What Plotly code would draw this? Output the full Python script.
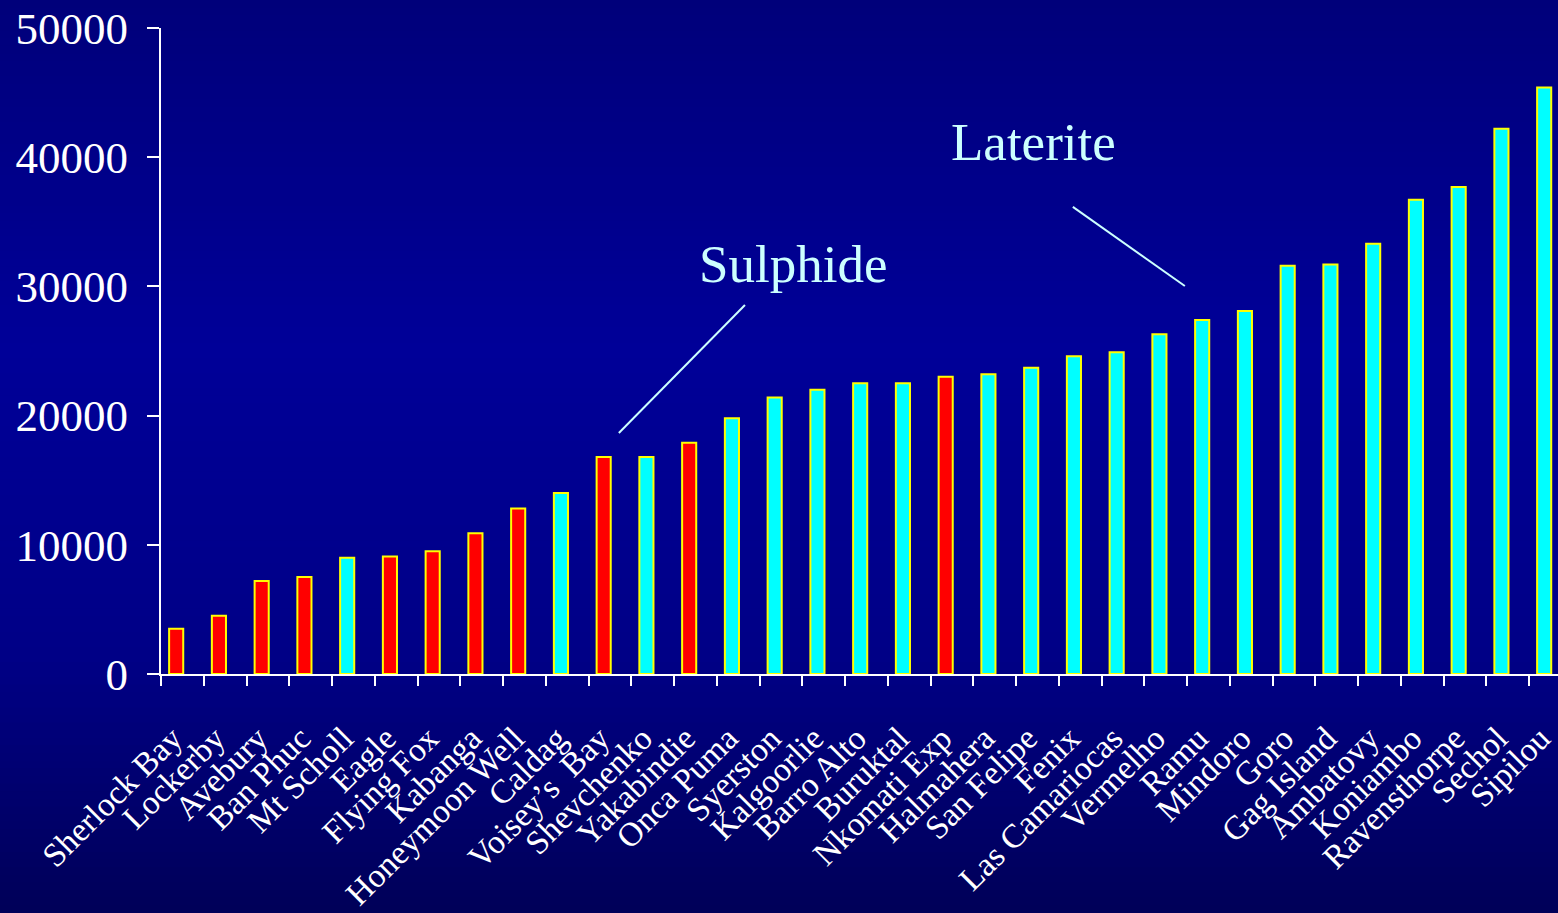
import plotly.graph_objects as go

# ---- data ----
mines = ["Sherlock Bay", "Lockerby", "Avebury", "Ban Phuc", "Mt Scholl", "Eagle",
         "Flying Fox", "Kabanga", "Honeymoon Well", "Caldag", "Voisey\u2019s  Bay",
         "Shevchenko", "Yakabindie", "Onca Puma", "Syerston", "Kalgoorlie",
         "Barro Alto", "Buruktal", "Nkomati Exp", "Halmahera", "San Felipe",
         "Fenix", "Las Camariocas", "Vermelho", "Ramu", "Mindoro", "Goro",
         "Gag Island", "Ambatovy", "Koniambo", "Ravensthorpe", "Sechol", "Sipilou"]
values = [3500, 4500, 7200, 7500, 9000, 9100, 9500, 10900, 12800, 14000, 16800,
          16800, 17900, 19800, 21400, 22000, 22500, 22500, 23000, 23200, 23700,
          24600, 24900, 26300, 27400, 28100, 31600, 31700, 33300, 36700, 37700,
          42200, 45400]
deposit_type = ["S", "S", "S", "S", "L", "S", "S", "S", "S", "L", "S", "L", "S",
                "L", "L", "L", "L", "L", "S", "L", "L", "L", "L", "L", "L", "L",
                "L", "L", "L", "L", "L", "L", "L"]
y_ticks = [0, 10000, 20000, 30000, 40000, 50000]

type_colors = {"S": "#FF0000", "L": "#00FFFF"}
bar_colors = [type_colors[t] for t in deposit_type]

W, H = 1558, 913
L_M, R_M, T_M, B_M = 161, 0, 28, 239
plot_w = W - L_M - R_M
cat_px = 42.75
x_max = -0.5 + plot_w / cat_px
label_shift = 10 / cat_px  # labels sit slightly left of category centres

fig = go.Figure()
fig.add_trace(go.Bar(
    x=mines, y=values,
    marker=dict(color=bar_colors, line=dict(color="#FFFF00", width=2)),
    width=0.33, offset=-0.31,
    hoverinfo="x+y",
))
# helper trace so the label axis exists
fig.add_trace(go.Scatter(x=[None], y=[None], xaxis="x2", yaxis="y",
                         mode="markers", hoverinfo="skip", showlegend=False))

# background gradient (bands)
stops = [(0.0, (0, 0, 0x7A)), (0.38, (0, 0, 0x98)), (0.72, (0, 0, 0x86)), (1.0, (0, 0, 0x58))]

def col_at(t):
    for (t0, c0), (t1, c1) in zip(stops[:-1], stops[1:]):
        if t0 <= t <= t1:
            f = (t - t0) / (t1 - t0) if t1 > t0 else 0
            return tuple(round(a + (b - a) * f) for a, b in zip(c0, c1))
    return stops[-1][1]

shapes = []
n_bands = 120
ph = H - T_M - B_M
for i in range(n_bands):
    py0 = H * i / n_bands
    py1 = H * (i + 1) / n_bands + 1
    t = (py0 + py1) / 2 / H
    r, g, b = col_at(min(t, 1.0))
    shapes.append(dict(
        type="rect", xref="paper", yref="paper",
        x0=-L_M / plot_w, x1=1 + 1 / plot_w,
        y0=1 - (py1 - T_M) / ph, y1=1 - (py0 - T_M) / ph,
        fillcolor=f"rgb({r},{g},{b})", line=dict(width=0), layer="below",
    ))

# annotation leader lines
line_col = "#CCFFFF"
shapes.append(dict(type="line", xref="x", yref="y", x0=13.16, y0=28560, x1=10.21, y1=18650,
                   line=dict(color=line_col, width=2)))
shapes.append(dict(type="line", xref="x", yref="y", x0=20.83, y0=36150, x1=23.45, y1=30030,
                   line=dict(color=line_col, width=2)))

fig.update_layout(
    width=W, height=H,
    margin=dict(l=L_M, r=R_M, t=T_M, b=B_M, pad=0, autoexpand=False),
    paper_bgcolor="#00005A",
    plot_bgcolor="rgba(0,0,0,0)",
    showlegend=False,
    shapes=shapes,
    font=dict(family="Liberation Serif, Times New Roman, serif", color="white"),
    annotations=[
        dict(x=14.28, y=31730, xref="x", yref="y", text="Sulphide", showarrow=False,
             font=dict(size=53, color="#CCFFFF", family="Liberation Serif"), xanchor="center", yanchor="middle"),
        dict(x=19.92, y=41200, xref="x", yref="y", text="Laterite", showarrow=False,
             font=dict(size=53, color="#CCFFFF", family="Liberation Serif"), xanchor="center", yanchor="middle"),
    ],
    xaxis=dict(
        range=[-0.5, x_max], showgrid=False, zeroline=False,
        showline=True, linecolor="white", linewidth=2,
        ticks="outside", ticklen=10, tickwidth=2, tickcolor="white",
        tickson="boundaries", automargin=False, showticklabels=False,
    ),
    xaxis2=dict(
        overlaying="x", side="bottom", anchor="y", type="linear",
        range=[-0.5 + label_shift, x_max + label_shift],
        tickmode="array", tickvals=list(range(len(mines))), ticktext=mines,
        showgrid=False, zeroline=False, showline=False, ticks="",
        tickangle=-45, automargin=False,
        tickfont=dict(size=33.5, color="white", family="Liberation Serif"),
        ticklabelstandoff=37,
    ),
    yaxis=dict(
        range=[0, 50000], showgrid=False, zeroline=False,
        showline=True, linecolor="white", linewidth=2,
        ticks="outside", ticklen=12, tickwidth=2, tickcolor="white",
        tickvals=y_ticks, tickformat="d", automargin=False,
        tickfont=dict(size=45, color="white", family="Liberation Serif"),
        ticklabelstandoff=10,
    ),
)

fig.write_html(
    "out.html",
    config={"displayModeBar": False},
    post_script="document.body.style.margin='0';document.body.style.overflow='hidden';",
)
